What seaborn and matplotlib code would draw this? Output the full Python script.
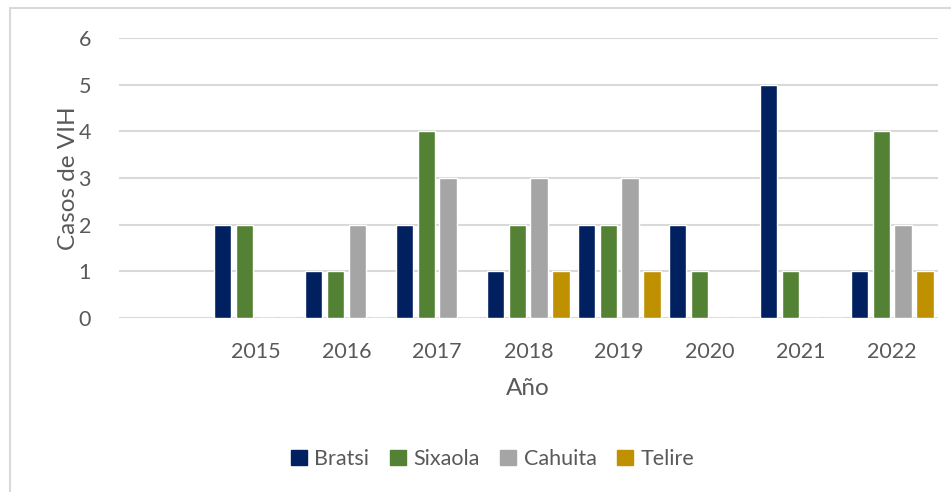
import pandas as pd
import matplotlib.pyplot as plt
import matplotlib.patches as mpatches
import seaborn as sns

# Data
years = ["2015", "2016", "2017", "2018", "2019", "2020", "2021", "2022"]
slots = [""] + years  # the original chart has an empty first category
bratsi = [2, 1, 2, 1, 2, 2, 5, 1]
sixaola = [2, 1, 4, 2, 2, 1, 1, 4]
cahuita = [0, 2, 3, 3, 3, 0, 0, 2]
telire = [0, 0, 0, 1, 1, 0, 0, 1]
regions = ["Bratsi", "Sixaola", "Cahuita", "Telire"]
colors = ["#002060", "#548235", "#A5A5A5", "#BF9000"]

df = pd.DataFrame({"Año": years, "Bratsi": bratsi, "Sixaola": sixaola,
                   "Cahuita": cahuita, "Telire": telire})
long = df.melt(id_vars="Año", var_name="Region", value_name="Casos")

sns.set_style("white")
plt.rcParams["font.family"] = ["Lato", "DejaVu Sans"]
text_color = "#595959"

fig = plt.figure(figsize=(9.51, 4.92), dpi=100)
ax = fig.add_axes([0.125, 0.3537, 0.861, 0.5691])

sns.barplot(data=long, x="Año", y="Casos", hue="Region", order=slots,
            hue_order=regions, palette=colors, width=0.96, gap=0.2,
            saturation=1, ax=ax, legend=False)

ax.set_ylim(0, 6)
ax.set_xlim(-0.5, len(slots) - 0.5)
ax.set_yticks(range(0, 7))
ax.yaxis.grid(True, color="#D9D9D9", linewidth=1.5)
ax.set_axisbelow(True)
for s in ax.spines.values():
    s.set_visible(False)
ax.tick_params(axis="both", length=0, labelsize=15.5, colors=text_color)
ax.tick_params(axis="x", pad=17)
ax.tick_params(axis="y", pad=20)
ax.set_xlabel("Año", fontsize=17.5, color=text_color, labelpad=12)
ax.set_ylabel("Casos de VIH", fontsize=17.5, color=text_color, labelpad=0)

handles = [mpatches.Patch(color=c, label=r) for r, c in zip(regions, colors)]
fig.legend(handles=handles, loc="center", bbox_to_anchor=(0.518, 0.067),
           ncol=4, frameon=False, fontsize=15.5, labelcolor=text_color,
           handlelength=0.75, handleheight=0.75, handletextpad=0.35,
           columnspacing=0.95)

# light border around the chart area
fig.patches.append(mpatches.Rectangle((10 / 951, -0.05), 1.05, 1 - 8 / 492 + 0.05,
                                      transform=fig.transFigure, fill=False,
                                      edgecolor="#D9D9D9", linewidth=1.5))

fig.savefig("out.png", dpi=100)
